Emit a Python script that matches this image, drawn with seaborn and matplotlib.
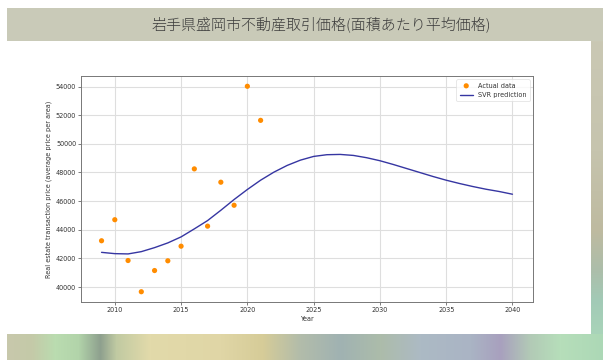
import numpy as np
import matplotlib
matplotlib.use("Agg")
import matplotlib.pyplot as plt
import seaborn as sns

# Observed average transaction price per area (yen), Morioka, Iwate
years = [2009, 2010, 2011, 2012, 2013, 2014, 2015, 2016, 2017, 2018, 2019, 2020, 2021]
actual_price = [43230, 44700, 41850, 39670, 41150, 41830, 42850,
                48250, 44250, 47320, 45710, 54020, 51640]

# SVR model output, one value per year
pred_years = list(range(2009, 2041))
svr_price = [42420, 42330, 42310, 42470, 42750, 43080, 43500, 44060,
             44640, 45360, 46110, 46810, 47460, 48020, 48490, 48860,
             49120, 49240, 49260, 49190, 49030, 48820, 48560, 48280,
             48000, 47720, 47460, 47230, 47020, 46830, 46670, 46480]

x_ticks = [2010, 2015, 2020, 2025, 2030, 2035, 2040]
y_ticks = [40000, 42000, 44000, 46000, 48000, 50000, 52000, 54000]

title = "岩手県盛岡市不動産取引価格(面積あたり平均価格)"
x_label = "Year"
y_label = "Real estate transaction price (average price per area)"

sns.set_theme(style="ticks", rc={
    "axes.grid": True,
    "grid.color": "#dedede",
    "grid.linewidth": 0.8,
    "axes.edgecolor": "#777777",
    "axes.linewidth": 0.7,
    "xtick.color": "#666666",
    "ytick.color": "#666666",
    "xtick.major.size": 2.0,
    "ytick.major.size": 2.0,
    "xtick.major.width": 0.6,
    "ytick.major.width": 0.6,
})
plt.rcParams["font.family"] = ["DejaVu Sans"]

W, H = 603, 360
fig = plt.figure(figsize=(W / 100, H / 100), dpi=100)

# ---- slide backdrop: title band, side strip and bottom strip ----
bg = np.ones((H, W, 3))
cols = np.arange(W)
rows = np.arange(H)

def ramp(pos, stops):
    p = [s[0] for s in stops]
    return np.stack([np.interp(pos, p, [s[1][i] for s in stops]) for i in range(3)], axis=-1) / 255.0

bottom_stops = [(7, (200, 200, 172)), (32, (196, 202, 168)), (55, (186, 220, 176)),
                (78, (178, 212, 170)), (100, (142, 160, 142)), (116, (192, 202, 162)),
                (150, (226, 218, 170)), (220, (224, 214, 166)), (262, (214, 204, 152)),
                (300, (178, 188, 170)), (340, (160, 178, 178)), (380, (172, 188, 170)),
                (420, (172, 186, 196)), (470, (170, 180, 196)), (500, (168, 160, 190)),
                (530, (178, 202, 182)), (560, (182, 222, 186)), (603, (172, 216, 182))]
side_stops = [(41, (202, 200, 180)), (150, (198, 196, 174)), (230, (190, 186, 160)),
              (270, (172, 190, 170)), (300, (162, 202, 182)), (360, (174, 220, 188))]

bg[8:, 7:] = ramp(cols[7:], bottom_stops)[None, :, :]
bg[8:41, 7:] = np.array([201, 202, 184]) / 255.0
bg[41:334, 591:] = ramp(rows[41:334], side_stops)[:, None, :]
bg[41:334, 7:591] = 1.0
fig.figimage(bg, xo=0, yo=0, origin="upper", zorder=-10)

fig.text(321.5 / W, 1 - 24 / H, title, ha="center", va="center", fontsize=10.8,
         color="#3c3c3c", fontweight="light",
         family=["Noto Sans CJK JP", "DejaVu Sans"])

# ---- chart ----
ax = fig.add_axes([81 / W, 1 - 302 / H, (533 - 81) / W, (302 - 76) / H])
ax.set_zorder(5)
ax.set_facecolor("white")
sns.scatterplot(x=years, y=actual_price, ax=ax, color="darkorange", s=14,
                edgecolor="none", label="Actual data", zorder=3)
sns.lineplot(x=pred_years, y=svr_price, ax=ax, color="#3636a2", linewidth=1.0,
             label="SVR prediction", zorder=2)

ax.set_xticks(x_ticks)
ax.set_yticks(y_ticks)
ax.tick_params(labelsize=4.7, labelcolor="#333333", pad=1.5)
ax.set_xlabel(x_label, fontsize=4.7, color="#333333", labelpad=2)
ax.set_ylabel(y_label, fontsize=4.7, color="#333333", labelpad=3)
for s in ax.spines.values():
    s.set_visible(True)

leg = ax.legend(loc="upper right", fontsize=4.7, frameon=True, fancybox=True,
                borderpad=0.5, handlelength=2.0, labelcolor="#333333")
leg.get_frame().set_edgecolor("#dddddd")
leg.get_frame().set_linewidth(0.6)

fig.savefig("out.png", dpi=100)
